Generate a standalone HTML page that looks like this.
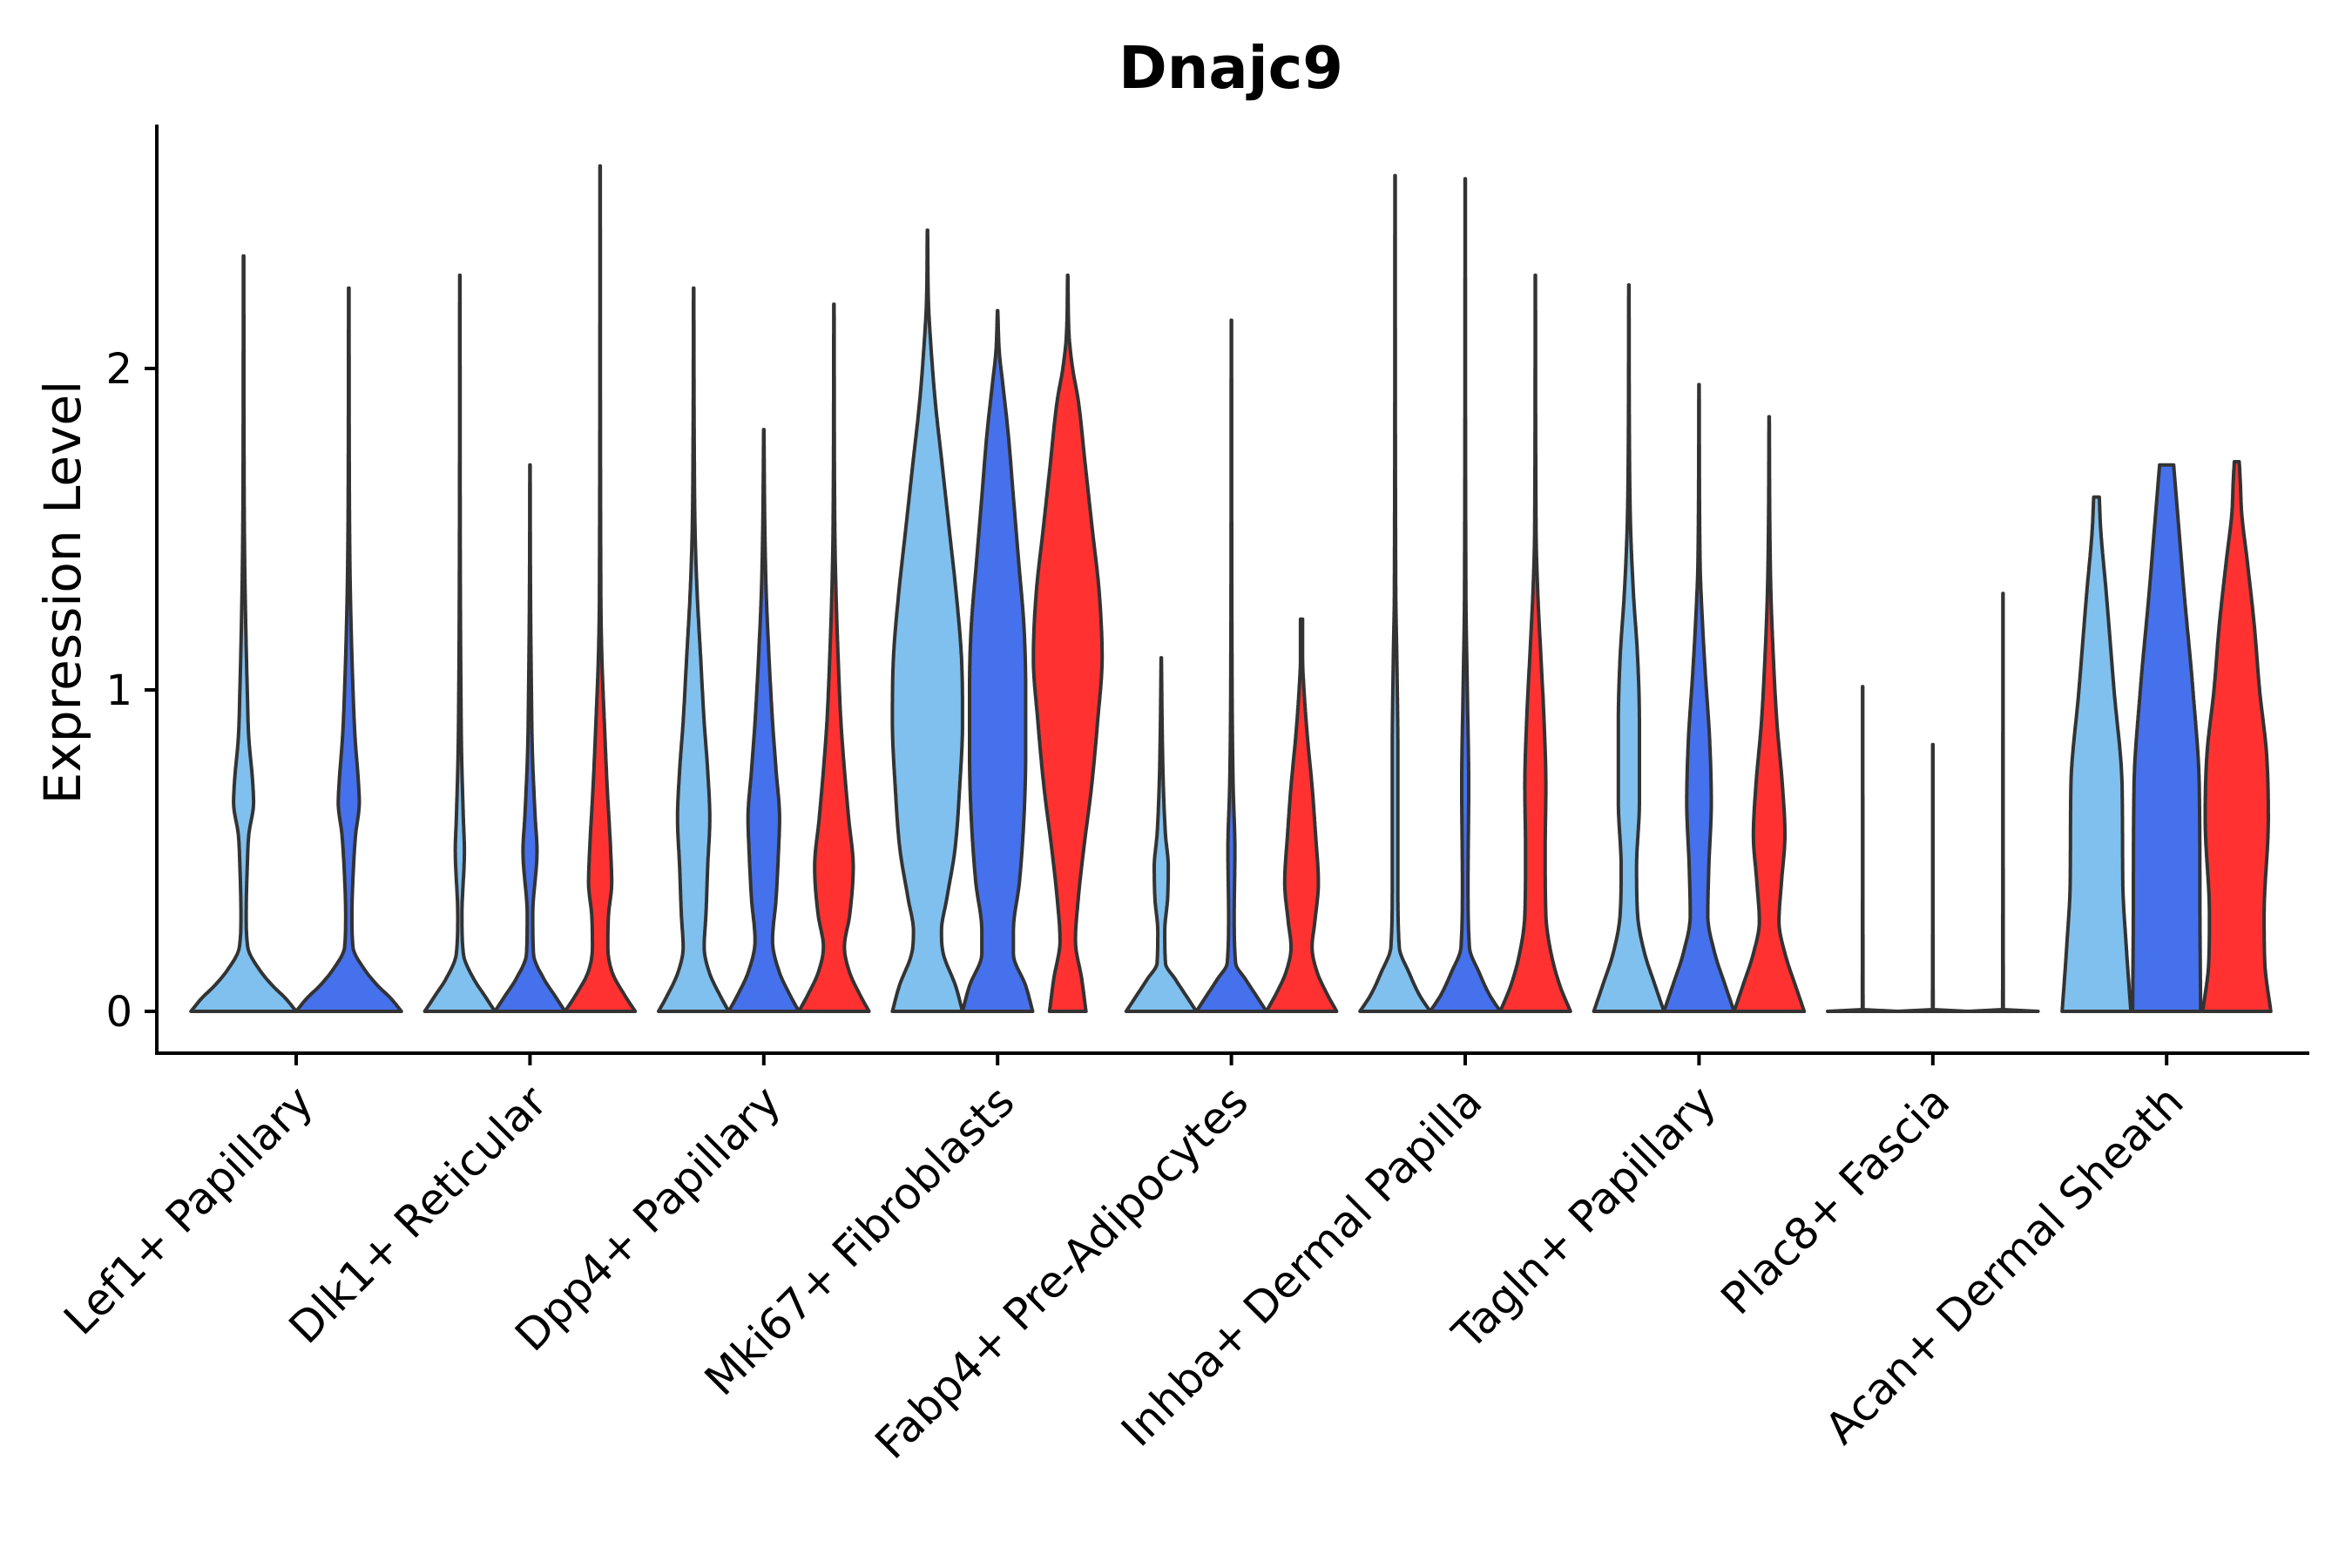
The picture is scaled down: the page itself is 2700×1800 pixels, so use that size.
<!DOCTYPE html>
<html><head><meta charset="utf-8">
<style>
html,body{margin:0;padding:0;background:#fff;}
svg{display:block;font-family:"DejaVu Sans","Liberation Sans",sans-serif;}
</style></head>
<body>
<svg id="chart" width="2700" height="1800" viewBox="0 0 2700 1800" xmlns="http://www.w3.org/2000/svg">
<rect width="2700" height="1800" fill="#fff"/>
<text x="1413" y="101" text-anchor="middle" font-size="67" font-weight="bold">Dnajc9</text>
<g id="plot"></g>
</svg>
<script>
const categories = ["Lef1+ Papillary","Dlk1+ Reticular","Dpp4+ Papillary","Mki67+ Fibroblasts","Fabp4+ Pre-Adipocytes","Inhba+ Dermal Papilla","Tagln+ Papillary","Plac8+ Fascia","Acan+ Dermal Sheath"];
const groups = ["g1","g2","g3"];
const groupColors = ["#80C0EE","#4671EC","#FF3131"];
const yTicks = [0,1,2];
const groupsPresent = [[0,1],[0,1,2],[0,1,2],[0,1,2],[0,1,2],[0,1,2],[0,1,2],[0,1,2],[0,1,2]];
// density profiles: [expression value, relative width]
const lef1 = [
 [[0,1],[0.04,0.8],[0.08,0.55],[0.13,0.3],[0.2,0.08],[0.3,0.05],[0.45,0.07],[0.55,0.1],[0.65,0.19],[0.72,0.17],[0.85,0.1],[1.0,0.07],[1.3,0.03],[1.5,0.015],[1.8,0.008],[2.35,0.005]],
 [[0,1],[0.04,0.8],[0.08,0.55],[0.13,0.3],[0.2,0.08],[0.3,0.06],[0.45,0.09],[0.55,0.13],[0.65,0.2],[0.72,0.18],[0.85,0.12],[1.0,0.08],[1.3,0.03],[1.5,0.015],[1.8,0.008],[2.25,0.005]]
];
const dlk1 = [
 [[0,1],[0.05,0.7],[0.1,0.4],[0.18,0.1],[0.3,0.06],[0.5,0.13],[0.6,0.1],[0.8,0.05],[1.0,0.03],[1.3,0.015],[2.29,0.005]],
 [[0,1],[0.05,0.7],[0.1,0.4],[0.18,0.1],[0.3,0.08],[0.5,0.2],[0.6,0.15],[0.8,0.07],[1.0,0.04],[1.3,0.015],[1.7,0.005]],
 [[0,1],[0.05,0.7],[0.12,0.35],[0.2,0.22],[0.3,0.24],[0.4,0.33],[0.5,0.3],[0.7,0.2],[0.9,0.12],[1.1,0.05],[1.3,0.02],[2.63,0.005]]
];
const dpp4 = [
 [[0,1],[0.05,0.75],[0.12,0.45],[0.2,0.3],[0.3,0.35],[0.45,0.4],[0.6,0.46],[0.75,0.4],[0.9,0.3],[1.1,0.2],[1.3,0.1],[1.5,0.04],[1.8,0.015],[2.25,0.005]],
 [[0,1],[0.05,0.75],[0.12,0.45],[0.22,0.25],[0.35,0.35],[0.5,0.42],[0.6,0.45],[0.75,0.35],[0.9,0.25],[1.1,0.15],[1.3,0.07],[1.5,0.03],[1.81,0.005]],
 [[0,1],[0.05,0.75],[0.12,0.45],[0.2,0.3],[0.3,0.45],[0.45,0.55],[0.6,0.42],[0.75,0.3],[0.9,0.2],[1.1,0.12],[1.3,0.06],[1.5,0.025],[2.2,0.005]]
];
const mki67 = [
 [[0,1],[0.08,0.8],[0.18,0.45],[0.25,0.4],[0.35,0.55],[0.5,0.78],[0.7,0.92],[0.9,1.0],[1.1,0.97],[1.3,0.82],[1.5,0.62],[1.7,0.42],[1.9,0.22],[2.1,0.08],[2.2,0.03],[2.43,0.005]],
 [[0,1],[0.08,0.8],[0.18,0.45],[0.25,0.45],[0.4,0.62],[0.6,0.75],[0.8,0.8],[1.0,0.8],[1.2,0.75],[1.4,0.6],[1.6,0.45],[1.8,0.3],[1.95,0.15],[2.05,0.05],[2.18,0.005]],
 [[0,0.52],[0.1,0.4],[0.22,0.22],[0.35,0.3],[0.5,0.45],[0.7,0.68],[0.9,0.85],[1.1,0.98],[1.3,0.9],[1.5,0.7],[1.7,0.5],[1.9,0.3],[2.0,0.14],[2.1,0.04],[2.29,0.005]]
];
const fabp4 = [
 [[0,1],[0.05,0.7],[0.1,0.4],[0.15,0.12],[0.25,0.1],[0.35,0.18],[0.45,0.2],[0.55,0.12],[0.7,0.06],[0.85,0.03],[1.1,0.005]],
 [[0,1],[0.05,0.7],[0.1,0.4],[0.15,0.12],[0.3,0.08],[0.5,0.1],[0.7,0.05],[1.0,0.02],[2.15,0.005]],
 [[0,1],[0.06,0.7],[0.12,0.45],[0.2,0.3],[0.28,0.38],[0.4,0.48],[0.55,0.4],[0.7,0.3],[0.85,0.17],[1.0,0.07],[1.1,0.03],[1.22,0.03]]
];
const inhba = [
 [[0,1],[0.05,0.7],[0.12,0.4],[0.2,0.12],[0.4,0.08],[0.8,0.08],[1.1,0.05],[1.3,0.02],[2.6,0.005]],
 [[0,1],[0.05,0.7],[0.12,0.4],[0.2,0.12],[0.4,0.08],[0.7,0.1],[1.0,0.06],[1.3,0.02],[2.59,0.005]],
 [[0,1],[0.08,0.7],[0.18,0.45],[0.3,0.3],[0.5,0.28],[0.7,0.3],[0.9,0.25],[1.1,0.16],[1.3,0.07],[1.5,0.02],[2.29,0.005]]
];
const tagln = [
 [[0,1],[0.08,0.75],[0.18,0.45],[0.3,0.25],[0.45,0.22],[0.65,0.3],[0.9,0.3],[1.1,0.25],[1.3,0.13],[1.5,0.05],[1.7,0.02],[2.26,0.005]],
 [[0,1],[0.08,0.75],[0.18,0.45],[0.3,0.25],[0.45,0.28],[0.65,0.35],[0.85,0.3],[1.05,0.18],[1.25,0.08],[1.4,0.03],[1.95,0.005]],
 [[0,1],[0.08,0.75],[0.18,0.45],[0.28,0.28],[0.4,0.35],[0.55,0.45],[0.7,0.38],[0.9,0.22],[1.1,0.12],[1.3,0.05],[1.5,0.02],[1.85,0.005]]
];
const plac8 = [
 [[0,1],[0.004,0.01],[1.01,0.004]],
 [[0,1],[0.004,0.01],[0.83,0.004]],
 [[0,1],[0.004,0.01],[1.3,0.004]]
];
const acan = [
 [[0,0.98],[0.2,0.85],[0.4,0.75],[0.7,0.73],[1.0,0.5],[1.3,0.28],[1.5,0.12],[1.6,0.08]],
 [[0,0.97],[0.3,0.95],[0.7,0.93],[1.0,0.75],[1.3,0.5],[1.5,0.35],[1.7,0.2]],
 [[0,0.97],[0.15,0.8],[0.3,0.78],[0.6,0.9],[0.8,0.85],[1.0,0.65],[1.2,0.5],[1.4,0.3],[1.55,0.14],[1.65,0.1],[1.71,0.07]]
];
const profiles = [lef1,dlk1,dpp4,mki67,fabp4,inhba,tagln,plac8,acan];

const NS = "http://www.w3.org/2000/svg";
const plot = document.getElementById('plot');
const X0 = 340, XSTEP = 268.4, Y0 = 1161, YUNIT = 369;
function xScale(i){ return X0 + XSTEP*i; }
function yScale(v){ return Y0 - YUNIT*v; }
function mk(tag, attrs){ const e=document.createElementNS(NS,tag); for(const k in attrs) e.setAttribute(k,attrs[k]); plot.appendChild(e); return e; }

function monotone(prof){
  const n=prof.length, xs=prof.map(p=>p[0]), ys=prof.map(p=>p[1]);
  const d=[], m=new Array(n).fill(0);
  for(let i=0;i<n-1;i++) d.push((ys[i+1]-ys[i])/(xs[i+1]-xs[i]));
  m[0]=d[0]; m[n-1]=d[n-2];
  for(let i=1;i<n-1;i++){ m[i] = (d[i-1]*d[i]<=0)?0:(d[i-1]+d[i])/2; }
  for(let i=0;i<n-1;i++){
    if(d[i]===0){m[i]=0;m[i+1]=0;continue;}
    const a=m[i]/d[i], b=m[i+1]/d[i], s=a*a+b*b;
    if(s>9){const t=3/Math.sqrt(s); m[i]=t*a*d[i]; m[i+1]=t*b*d[i];}
  }
  return function(x){
    let i=0; while(i<n-2 && x>xs[i+1]) i++;
    const h=xs[i+1]-xs[i], t=Math.min(1,Math.max(0,(x-xs[i])/h));
    const t2=t*t,t3=t2*t;
    return (2*t3-3*t2+1)*ys[i]+(t3-2*t2+t)*h*m[i]+(-2*t3+3*t2)*ys[i+1]+(t3-t2)*h*m[i+1];
  };
}

categories.forEach((cat,ci)=>{
  const pres = groupsPresent[ci];
  const n = pres.length;
  const slot = 0.9/n;
  pres.forEach((gi,k)=>{
    const prof = profiles[ci][k];
    const center = ci + (-0.45 + slot*(k+0.5));
    const cx = X0 + XSTEP*center;
    const halfMax = slot*XSTEP/2;
    const f = monotone(prof);
    const vmax = prof[prof.length-1][0];
    const samples = [];
    const steps = Math.max(2, Math.ceil(vmax*YUNIT/2));
    for(let s=0;s<=steps;s++){ const v=vmax*s/steps; samples.push([v, Math.max(0.003, f(v))]); }
    const right = samples.map(p=>(cx + p[1]*halfMax).toFixed(1)+','+yScale(p[0]).toFixed(1));
    const left = samples.slice().reverse().map(p=>(cx - p[1]*halfMax).toFixed(1)+','+yScale(p[0]).toFixed(1));
    const d = 'M' + right.join(' L') + ' L' + left.join(' L') + ' Z';
    const p = mk('path',{d:d, fill:groupColors[gi], stroke:'#333', 'stroke-width':4, 'stroke-linejoin':'round'});
    
    
  });
});

const ya = mk('line',{x1:180,y1:143,x2:180,y2:1211,stroke:'#000','stroke-width':4});


const xa = mk('line',{x1:178,y1:1209,x2:2651,y2:1209,stroke:'#000','stroke-width':4});



yTicks.forEach(t=>{
  const y=yScale(t);
  const tk = mk('line',{x1:166,y1:y,x2:180,y2:y,stroke:'#000','stroke-width':4});
  
  
  const tx = mk('text',{x:152,y:y+17,'text-anchor':'end','font-size':48,fill:'#000'});
  tx.textContent = t;
  
  
});

categories.forEach((cat,ci)=>{
  const x=xScale(ci);
  const tk = mk('line',{x1:x,y1:1209,x2:x,y2:1223,stroke:'#000','stroke-width':4});
  
  
  const tx = mk('text',{x:0,y:0,'text-anchor':'end','font-size':50,fill:'#000',transform:`translate(${x+22},${1268}) rotate(-45)`});
  tx.textContent = cat;
  
  
});

const yt = mk('text',{x:0,y:0,'text-anchor':'middle','font-size':58,fill:'#000',transform:'translate(92,680) rotate(-90)'});
yt.textContent = 'Expression Level';


</script>
</body></html>
